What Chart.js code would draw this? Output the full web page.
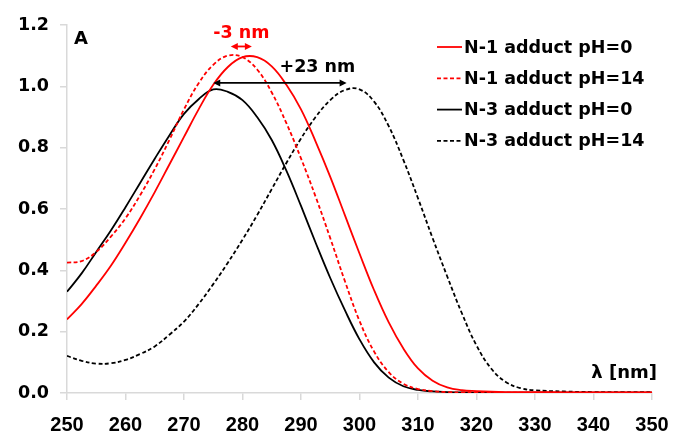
<!DOCTYPE html>
<html>
<head>
<meta charset="utf-8">
<script src="https://cdn.jsdelivr.net/npm/chart.js@4/dist/chart.umd.min.js"></script>
<style>
  html, body { margin: 0; padding: 0; background: #fff; }
  #wrap { width: 673px; height: 435px; position: relative; }
</style>
</head>
<body>
<div id="wrap"><canvas id="spectra"></canvas></div>
<script>
// wavelength grid (nm) shared by all four spectra
const wavelengths = [250, 252.5, 255, 257.5, 260, 262.5, 265, 267.5, 270, 272.5, 275, 277.5, 280, 282.5, 285, 287.5, 290, 292.5, 295, 297.5, 300, 302.5, 305, 307.5, 310, 312.5, 315, 317.5, 320, 322.5, 325, 327.5, 330, 335, 340, 345, 350];

const n1ph0 = [0.24, 0.29, 0.35, 0.415, 0.49, 0.57, 0.655, 0.745, 0.835, 0.925, 1.005, 1.063, 1.095, 1.095, 1.065, 1.005, 0.925, 0.82, 0.705, 0.58, 0.455, 0.335, 0.23, 0.145, 0.08, 0.04, 0.018, 0.009, 0.006, 0.004, 0.003, 0.003, 0.003, 0.002, 0.002, 0.002, 0.002];
const n1ph14 = [0.425, 0.43, 0.46, 0.51, 0.57, 0.645, 0.73, 0.825, 0.925, 1.01, 1.07, 1.10, 1.095, 1.055, 0.98, 0.88, 0.765, 0.64, 0.505, 0.365, 0.235, 0.135, 0.068, 0.03, 0.013, 0.006, 0.003, 0.002, 0.002, 0.002, 0.001, 0.001, 0.001, 0.001, 0.001, 0.001, 0.001];
const n3ph0 = [0.33, 0.39, 0.46, 0.53, 0.606, 0.685, 0.764, 0.84, 0.91, 0.958, 0.99, 0.982, 0.955, 0.90, 0.825, 0.725, 0.61, 0.49, 0.375, 0.27, 0.175, 0.10, 0.05, 0.022, 0.01, 0.005, 0.003, 0.002, 0.001, 0.001, 0.001, 0.001, 0.001, 0.001, 0.001, 0.001, 0.001];
const n3ph14 = [0.121, 0.105, 0.096, 0.097, 0.108, 0.127, 0.152, 0.19, 0.233, 0.29, 0.355, 0.425, 0.50, 0.58, 0.665, 0.75, 0.83, 0.90, 0.955, 0.988, 0.99, 0.95, 0.87, 0.76, 0.635, 0.505, 0.38, 0.26, 0.155, 0.08, 0.036, 0.016, 0.009, 0.005, 0.003, 0.003, 0.003];

const seriesLabels = ["N-1 adduct pH=0", "N-1 adduct pH=14", "N-3 adduct pH=0", "N-3 adduct pH=14"];

// peak shift arrows: [from nm, to nm], height in A
const shiftN1 = [278, 281.6];
const shiftN1Level = 1.13;
const shiftN3 = [275, 297.8];
const shiftN3Level = 1.011;

const axisGray = "#d9d9d9";
const boldFont = "'DejaVu Sans', sans-serif";

function toPoints(values) {
  return values.map((v, i) => ({ x: wavelengths[i], y: v }));
}

function arrowHead(ctx, x, y, dir, color) {
  ctx.fillStyle = color;
  ctx.beginPath();
  ctx.moveTo(x, y);
  ctx.lineTo(x - dir * 7, y - 3.5);
  ctx.lineTo(x - dir * 7, y + 3.5);
  ctx.closePath();
  ctx.fill();
}

function doubleArrow(ctx, xs, level, color, chart) {
  const sx = chart.scales.x, sy = chart.scales.y;
  const x1 = sx.getPixelForValue(xs[0]);
  const x2 = sx.getPixelForValue(xs[1]);
  const y = sy.getPixelForValue(level);
  ctx.strokeStyle = color;
  ctx.lineWidth = 1.8;
  ctx.beginPath();
  ctx.moveTo(x1 + 4, y);
  ctx.lineTo(x2 - 4, y);
  ctx.stroke();
  arrowHead(ctx, x1, y, -1, color);
  arrowHead(ctx, x2, y, 1, color);
}

const extras = {
  id: "extras",
  afterDatasetsDraw(chart) {
    const ctx = chart.ctx;
    const sx = chart.scales.x, sy = chart.scales.y;
    ctx.save();

    doubleArrow(ctx, shiftN1, shiftN1Level, "#ff0000", chart);
    doubleArrow(ctx, shiftN3, shiftN3Level, "#000000", chart);

    ctx.textAlign = "center";
    ctx.textBaseline = "middle";
    ctx.font = "bold 17.5px " + boldFont;
    ctx.fillStyle = "#ff0000";
    ctx.fillText("-3 nm", sx.getPixelForValue(279.8), sy.getPixelForValue(1.172));
    ctx.fillStyle = "#000000";
    ctx.fillText("+23 nm", sx.getPixelForValue(292.8), sy.getPixelForValue(1.061));

    ctx.textAlign = "left";
    ctx.font = "bold 18px " + boldFont;
    ctx.fillText("A", 74, 39);
    ctx.textAlign = "right";
    ctx.fillText("λ [nm]", 657, 373);

    // legend
    ctx.font = "bold 17.5px " + boldFont;
    ctx.textAlign = "left";
    chart.data.datasets.forEach((ds, i) => {
      const y = 47 + i * 31.3;
      ctx.strokeStyle = ds.borderColor;
      ctx.lineWidth = ds.borderWidth;
      ctx.setLineDash(ds.borderDash || []);
      ctx.beginPath();
      ctx.moveTo(437, y);
      ctx.lineTo(462, y);
      ctx.stroke();
      ctx.setLineDash([]);
      ctx.fillStyle = "#000";
      ctx.fillText(ds.label, 464, y + 1);
    });
    ctx.restore();
  }
};

const ctx = document.getElementById("spectra").getContext("2d");
new Chart(ctx, {
  type: "line",
  data: {
    datasets: [
      { label: seriesLabels[0], data: toPoints(n1ph0), borderColor: "#ff0000", borderWidth: 1.8 },
      { label: seriesLabels[1], data: toPoints(n1ph14), borderColor: "#ff0000", borderWidth: 1.8, borderDash: [4, 2.5] },
      { label: seriesLabels[2], data: toPoints(n3ph0), borderColor: "#000000", borderWidth: 1.8 },
      { label: seriesLabels[3], data: toPoints(n3ph14), borderColor: "#000000", borderWidth: 1.8, borderDash: [4, 2.5] },
    ],
  },
  options: {
    responsive: true,
    maintainAspectRatio: false,
    animation: false,
    layout: { padding: { top: 25, right: 21, left: 0, bottom: 0 } },
    elements: {
      point: { radius: 0 },
      line: { tension: 0.4, fill: false },
    },
    plugins: {
      legend: { display: false },
      tooltip: { enabled: false },
    },
    scales: {
      x: {
        type: "linear",
        min: 250,
        max: 350,
        afterFit: (s) => { s.height = 42; s.paddingLeft = 0; s.paddingRight = 0; },
        grid: { drawOnChartArea: false, drawTicks: true, tickLength: 7, color: axisGray, lineWidth: 1.5 },
        border: { color: axisGray, width: 1.5 },
        ticks: {
          stepSize: 10,
          padding: 13,
          color: "#000",
          font: { family: "'Liberation Sans', Arial, sans-serif", weight: "bold", size: 20 },
        },
      },
      y: {
        min: 0,
        max: 1.2,
        afterFit: (s) => { s.width = 67; },
        grid: { drawOnChartArea: false, drawTicks: true, tickLength: 7, color: axisGray, lineWidth: 1.5 },
        border: { color: axisGray, width: 1.5 },
        ticks: {
          stepSize: 0.2,
          padding: 11,
          color: "#000",
          font: { family: boldFont, weight: "bold", size: 17.5 },
          callback: (v) => v.toFixed(1),
        },
      },
    },
  },
  plugins: [extras],
});
</script>
</body>
</html>
